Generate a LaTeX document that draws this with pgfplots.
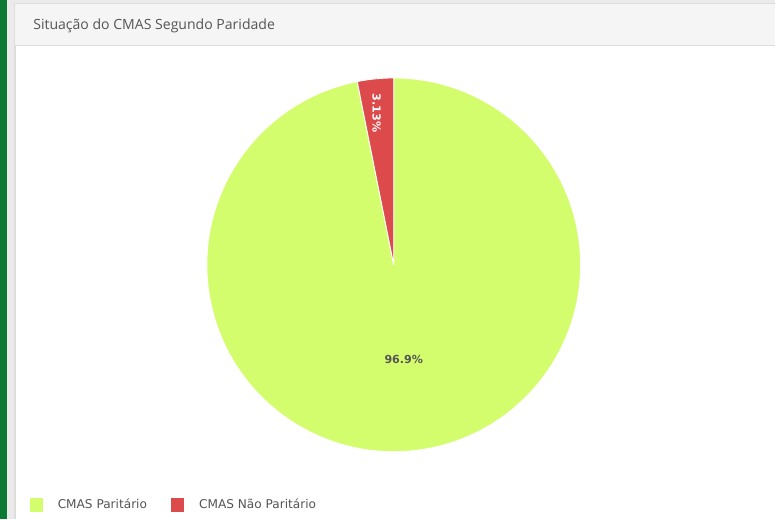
\documentclass[border=0pt]{standalone}
\usepackage{pgfplots}
\pgfplotsset{compat=1.18}
\usepackage{pgfplotstable}
\usepackage{fontspec}
\setmainfont{DejaVu Sans}
\newfontfamily\titlefont{Open Sans}
\definecolor{pieGreen}{HTML}{D4FD6E}
\definecolor{pieRed}{HTML}{DD4A4C}
\definecolor{frameGreen}{HTML}{0B7A35}
\definecolor{bgGray}{HTML}{EBEBEB}
\definecolor{titleBar}{HTML}{F5F5F5}
\definecolor{lineGray}{HTML}{DDDDDD}
\definecolor{txtGray}{HTML}{555555}
\pgfplotstableread{
label value
Paritario 96.87
NaoParitario 3.13
}\piedata
\begin{document}
\begin{tikzpicture}
\pgfplotstablegetelem{0}{value}\of\piedata
\pgfmathsetmacro{\vA}{\pgfplotsretval}
\pgfplotstablegetelem{1}{value}\of\piedata
\pgfmathsetmacro{\vB}{\pgfplotsretval}
\pgfmathsetmacro{\aMid}{90+\vB*3.6}
\begin{axis}[
  width=15.52cm, height=10.38cm, scale only axis,
  xmin=0, xmax=776, ymin=0, ymax=519,
  axis lines=none, clip=false,
  legend columns=2,
  legend style={at={(axis cs:24,14)}, anchor=west, draw=none, fill=none,
    font=\fontsize{6.9pt}{8pt}\selectfont, text=txtGray,
    nodes={inner sep=0pt},
    /tikz/every odd column/.append style={column sep=0.3cm},
    /tikz/every even column/.append style={column sep=0.48cm}},
]
% background frame
\fill[bgGray] (axis cs:0,0) rectangle (axis cs:776,519);
\fill[frameGreen] (axis cs:0,0) rectangle (axis cs:7.5,519);
\fill[white] (axis cs:15,0) rectangle (axis cs:776,515);
\draw[lineGray, line width=0.6pt] (axis cs:15,0) -- (axis cs:15,515) -- (axis cs:776,515);
\fill[titleBar] (axis cs:15.5,473) rectangle (axis cs:776,514.5);
\draw[lineGray, line width=0.6pt] (axis cs:15.5,473) -- (axis cs:776,473);
\node[anchor=base west, inner sep=0pt, text=txtGray, font=\titlefont\fontsize{8pt}{9pt}\selectfont] at (axis cs:33,489) {Situação do CMAS Segundo Paridade};
% pie
\fill[pieGreen, draw=white, line width=0.5pt] (axis cs:394,254) -- ++(\aMid:3.74cm) arc[start angle=\aMid, end angle=450, radius=3.74cm] -- cycle;
\fill[pieRed, draw=white, line width=0.5pt] (axis cs:394,254) -- ++(90:3.74cm) arc[start angle=90, end angle=\aMid, radius=3.74cm] -- cycle;
\node[text=white, rotate=-90, font=\bfseries\fontsize{6.3pt}{7pt}\selectfont, inner sep=0pt] at (axis cs:377,406) {3.13\%};
\node[text=txtGray, font=\bfseries\fontsize{6.3pt}{7pt}\selectfont, inner sep=0pt] at (axis cs:404,159) {96.9\%};
\addlegendimage{legend image code/.code={\fill[pieGreen] (0cm,-0.13cm) rectangle (0.25cm,0.13cm);}}
\addlegendentry{CMAS Paritário}
\addlegendimage{legend image code/.code={\fill[pieRed] (0cm,-0.13cm) rectangle (0.25cm,0.13cm);}}
\addlegendentry{CMAS Não Paritário}
\end{axis}
\end{tikzpicture}
\end{document}
